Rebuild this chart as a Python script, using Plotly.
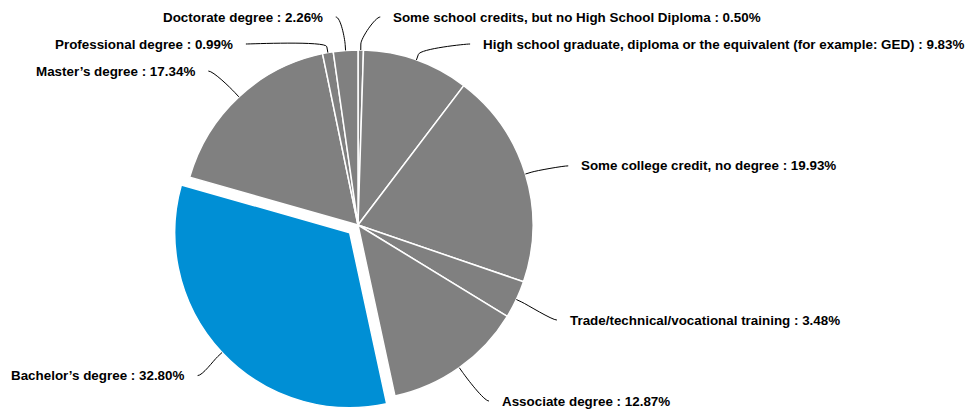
import math
import plotly.graph_objects as go

# Highest level of education completed (share of respondents, %)
categories = [
    "Some school credits, but no High School Diploma",
    "High school graduate, diploma or the equivalent (for example: GED)",
    "Some college credit, no degree",
    "Trade/technical/vocational training",
    "Associate degree",
    "Bachelor’s degree",
    "Master’s degree",
    "Professional degree",
    "Doctorate degree",
]
shares = [0.50, 9.83, 19.93, 3.48, 12.87, 32.80, 17.34, 0.99, 2.26]
highlight = "Bachelor’s degree"

# canvas and pie geometry (pixels)
W, H = 975, 412
CX, CY, RADIUS = 358, 225, 175
PULL = 0.065
GRAY, BLUE = "#808080", "#008fd5"

# outside label layout (pixels)
LABEL_CY = CY + 3.5   # centre of the label ring
RING_Y = 215          # vertical radius used for natural label heights
RING_X = 212          # radius used to find the label's horizontal anchor
LABEL_PAD = 18.7      # text offset from the ring
LABEL_GAP = 11        # space between connector end and text
ROW = 27              # minimum vertical spacing between labels
Y_MIN, Y_MAX = 17, 401
FONT_SIZE = 13.4

pulls = [PULL if c == highlight else 0.0 for c in categories]
colors = [BLUE if c == highlight else GRAY for c in categories]

# plotly shrinks the radius to leave room for the pulled slice
box = 2 * RADIUS * (1 + max(pulls))
dom_x = [(CX - box / 2) / W, (CX + box / 2) / W]
dom_y = [1 - (CY + box / 2) / H, 1 - (CY - box / 2) / H]

fig = go.Figure()
fig.add_trace(go.Pie(
    labels=categories,
    values=shares,
    sort=False,
    direction="clockwise",
    rotation=0,
    pull=pulls,
    marker=dict(colors=colors, line=dict(color="white", width=1.5)),
    textinfo="none",
    hoverinfo="label+percent",
    showlegend=False,
    domain=dict(x=dom_x, y=dom_y),
))

# slice mid-angles (clockwise from 12 o'clock)
total = sum(shares)
items = []
acc = 0.0
for cat, val, p in zip(categories, shares, pulls):
    mid = (acc + val / 2) / total * 2 * math.pi
    acc += val
    dx, dy = math.sin(mid), -math.cos(mid)
    side = 1 if dx >= 0 else -1
    items.append(dict(cat=cat, val=val, dx=dx, dy=dy, side=side,
                      ox=p * RADIUS * dx, oy=p * RADIUS * dy,
                      target=LABEL_CY + RING_Y * dy))


def distribute(group):
    """Spread labels on one side so they keep ROW px apart."""
    group.sort(key=lambda it: it["target"])
    clusters = [[it] for it in group]
    changed = True
    while changed:
        changed = False
        for cl in clusters:
            n = len(cl)
            mean = sum(it["target"] for it in cl) / n
            start = mean - (n - 1) * ROW / 2
            start = max(Y_MIN, min(start, Y_MAX - (n - 1) * ROW))
            for k, it in enumerate(cl):
                it["y"] = start + k * ROW
        for i in range(len(clusters) - 1):
            if clusters[i + 1][0]["y"] - clusters[i][-1]["y"] < ROW:
                clusters[i] = clusters[i] + clusters.pop(i + 1)
                changed = True
                break


distribute([it for it in items if it["side"] > 0])
distribute([it for it in items if it["side"] < 0])

for it in items:
    s = it["side"]
    dyl = max(-RING_X, min(RING_X, it["y"] - LABEL_CY))
    anchor = CX + s * math.sqrt(RING_X ** 2 - dyl ** 2)
    tx = anchor + s * LABEL_PAD
    ly = it["y"]
    fig.add_annotation(
        x=tx, y=ly, xref="x", yref="y",
        text=f"<b>{it['cat']} : {it['val']:.2f}%</b>",
        showarrow=False,
        xanchor="left" if s > 0 else "right",
        yanchor="middle",
        font=dict(family="Liberation Sans, Arial, sans-serif", size=FONT_SIZE, color="#000000"),
    )
    # curved connector from the label to the (possibly pulled) slice rim
    cx, cy = CX + it["ox"], CY + it["oy"]
    ex = tx - s * LABEL_GAP
    touch = (cx + RADIUS * it["dx"], cy + RADIUS * it["dy"])
    brk = (cx + (RADIUS + 6) * it["dx"], cy + (RADIUS + 6) * it["dy"])
    ctl = (2 * brk[0] - touch[0], 2 * brk[1] - touch[1])
    path = (f"M {ex:.2f},{ly:.2f} C {ex - s * 5:.2f},{ly:.2f} {ctl[0]:.2f},{ctl[1]:.2f} "
            f"{brk[0]:.2f},{brk[1]:.2f} L {touch[0]:.2f},{touch[1]:.2f}")
    fig.add_shape(type="path", path=path, xref="x", yref="y",
                  line=dict(color="#000000", width=1))

fig.update_layout(
    width=W, height=H,
    margin=dict(l=0, r=0, t=0, b=0),
    paper_bgcolor="white",
    plot_bgcolor="rgba(0,0,0,0)",
    xaxis=dict(range=[0, W], visible=False, fixedrange=True, domain=[0, 1]),
    yaxis=dict(range=[H, 0], visible=False, fixedrange=True, domain=[0, 1]),
)

fig.write_html("out.html")
